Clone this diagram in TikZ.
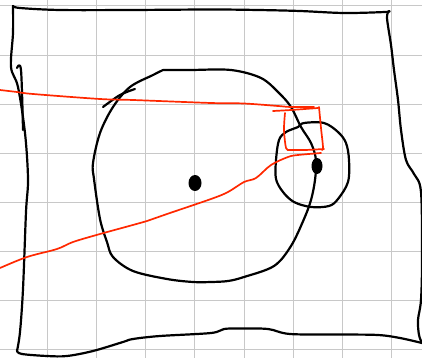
\documentclass[tikz,border=0pt]{standalone}
\definecolor{penred}{RGB}{255,40,0}
\definecolor{gridgray}{RGB}{200,200,200}
\tikzset{
  pen/.style={draw=black, line width=2.2pt, line cap=round, line join=round},
  redpen/.style={draw=penred, line width=1.7pt, line cap=round, line join=round},
  gridline/.style={draw=gridgray, line width=1pt},
  sk/.style={smooth, tension=0.55}
}
\begin{document}
\begin{tikzpicture}[x=1pt,y=-1pt]
\useasboundingbox (0,0) rectangle (422,358);
\clip (0,0) rectangle (422,358);
\fill[white] (0,0) rectangle (422,358);
% grid
\foreach \gx in {47.3,96.5,145.7,194.9,244.1,293.3,342.5,391.7}
  \draw[gridline] (\gx,0) -- (\gx,358);
\foreach \gy in {6,55.1,104.2,153.3,202.4,251.5,300.6,349.7}
  \draw[gridline] (0,\gy) -- (422,\gy);
% outer frame
\draw[pen] plot[sk] coordinates {(13,6) (20,8) (60,10) (130,10) (211,9.5) (258,10) (300,11) (344,13) (385,12) (389,11)};
\draw[pen] plot[sk] coordinates {(389,11) (387,18) (391,45) (394,70) (398,100) (401,130) (406,160) (414,174) (421,192) (422,260) (421,300) (418,320) (419,335) (422,343)};
\draw[pen] plot[sk] coordinates {(422,343) (400,338) (378,335) (340,334.5) (290,334) (268,329) (240,328.5) (224,329) (211,333) (160,336) (133,339) (123,342) (93,351) (67,356) (47,356) (22,354) (17,351)};
\draw[pen] plot[sk] coordinates {(17,351) (20,332) (23,289) (26,212) (28,179) (25,133) (18,87) (11,67) (13,33) (13,6)};
% small stroke at left
\draw[pen] plot[sk] coordinates {(17,68) (21,70) (23,130)};
% big circle
\draw[pen] plot[sk] coordinates {(163,70) (190,70) (231,70) (261,78) (279,93) (291,107) (301,127) (311,143) (316,160) (315,180) (311,200) (304,219) (291,246) (274,266) (244,277) (228,281) (211,282) (193,282) (167,279) (133,271) (113,257) (107,242) (100,219) (94,179) (93,163) (100,133) (113,107) (130,87) (153,75) (163,70)};
\draw[pen] plot[sk] coordinates {(103,107) (120,95) (135,89)};
% small circle
\draw[pen] plot[smooth cycle, tension=0.55] coordinates {(304,123) (324,123) (338,132) (346,143) (349,160) (348,182) (338,199) (329,206) (311,207) (294,202) (283,192) (276,179) (276,160) (279,140) (286,132) (298,127)};
% dots
\fill (195,183) ellipse [x radius=6.5, y radius=8];
\fill (317,166) ellipse [x radius=5.5, y radius=8];
% red lines
\draw[redpen] plot[sk] coordinates {(0,90) (17,92) (33,94) (100,99) (133,100) (211,103) (244,103.5) (278,106) (291,107) (314,107)};
\draw[redpen] plot[sk] coordinates {(273,111) (291,110) (318,108)};
\draw[redpen] plot[sk] coordinates {(319,107) (321,128) (323,147) (322,150)};
\draw[redpen] plot[sk] coordinates {(324,149) (305,150) (288,150)};
\draw[redpen] plot[sk] coordinates {(285,113) (284,130) (286,148) (289,150)};
\draw[redpen] plot[sk] coordinates {(0,268) (27,257) (57,249) (73,242) (100,234) (147,221) (167,214) (211,199) (228,192) (244,182) (256,178) (271,165) (288,157) (298,155) (321,153)};
\end{tikzpicture}
\end{document}
